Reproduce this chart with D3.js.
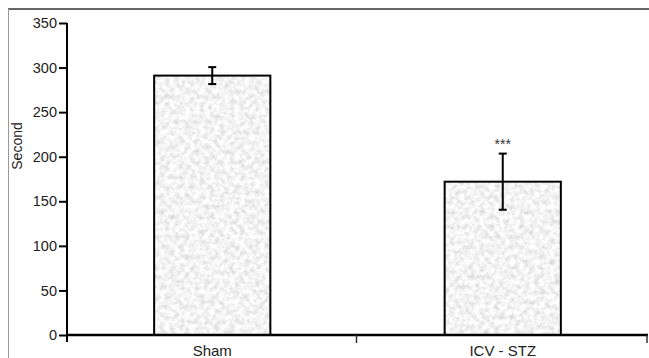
<!DOCTYPE html>
<html>
<head>
<meta charset="utf-8">
<script src="https://cdn.jsdelivr.net/npm/d3@7"></script>
<style>
  body { margin: 0; background: #fff; }
  svg { display: block; font-family: "Liberation Sans", Arial, sans-serif; }
</style>
</head>
<body>
<div id="chart"></div>
<script>
const groups = ['Sham', 'ICV - STZ'];
const means = [291, 172];
const sem = [9.5, 31.5];
const marks = ['', '***'];
const yTicks = [0, 50, 100, 150, 200, 250, 300, 350];

const data = groups.map((g, i) => ({ group: g, mean: means[i], sem: sem[i], mark: marks[i] }));

const width = 649, height = 358;
const svg = d3.select('#chart').append('svg')
  .attr('width', width)
  .attr('height', height);

// grainy grey fill for the bars
const defs = svg.append('defs');
const grain = defs.append('filter').attr('id', 'grain')
  .attr('x', 0).attr('y', 0).attr('width', 1).attr('height', 1);
grain.append('feTurbulence')
  .attr('type', 'fractalNoise')
  .attr('baseFrequency', 0.2)
  .attr('numOctaves', 3)
  .attr('seed', 7)
  .attr('result', 'noise');
grain.append('feColorMatrix')
  .attr('in', 'noise')
  .attr('type', 'matrix')
  .attr('values', '0.55 0 0 0 0.62  0.55 0 0 0 0.62  0.55 0 0 0 0.62  0 0 0 0 1')
  .attr('result', 'grey');
grain.append('feComposite')
  .attr('in', 'grey')
  .attr('in2', 'SourceGraphic')
  .attr('operator', 'in');

// outer frame
svg.append('line')
  .attr('x1', 8).attr('x2', width).attr('y1', 9).attr('y2', 9)
  .attr('stroke', '#333').attr('stroke-width', 1.5);
svg.append('line')
  .attr('x1', 8.5).attr('x2', 8.5).attr('y1', 9).attr('y2', height)
  .attr('stroke', '#999').attr('stroke-width', 1);

const x = d3.scaleBand()
  .domain(groups)
  .range([67, 648])
  .padding(0);

const y = d3.scaleLinear()
  .domain([0, 350])
  .range([335, 23]);

const barW = x.bandwidth() * 0.4;

// bars
svg.selectAll('.bar')
  .data(data)
  .enter().append('rect')
  .attr('class', 'bar')
  .attr('x', d => x(d.group) + (x.bandwidth() - barW) / 2)
  .attr('y', d => y(d.mean))
  .attr('width', barW)
  .attr('height', d => y(0) - y(d.mean))
  .attr('fill', '#eee')
  .attr('filter', 'url(#grain)');

svg.selectAll('.bar-edge')
  .data(data)
  .enter().append('rect')
  .attr('class', 'bar-edge')
  .attr('x', d => x(d.group) + (x.bandwidth() - barW) / 2)
  .attr('y', d => y(d.mean))
  .attr('width', barW)
  .attr('height', d => y(0) - y(d.mean))
  .attr('fill', 'none')
  .attr('stroke', '#000')
  .attr('stroke-width', 2);

// error bars
const cx = d => x(d.group) + x.bandwidth() / 2;
const err = svg.selectAll('.err')
  .data(data)
  .enter().append('g')
  .attr('class', 'err')
  .attr('stroke', '#000')
  .attr('stroke-width', 2);
err.append('line')
  .attr('x1', cx).attr('x2', cx)
  .attr('y1', d => y(d.mean + d.sem))
  .attr('y2', d => y(d.mean - d.sem));
err.append('line')
  .attr('x1', d => cx(d) - 4).attr('x2', d => cx(d) + 4)
  .attr('y1', d => y(d.mean + d.sem)).attr('y2', d => y(d.mean + d.sem));
err.append('line')
  .attr('x1', d => cx(d) - 4).attr('x2', d => cx(d) + 4)
  .attr('y1', d => y(d.mean - d.sem)).attr('y2', d => y(d.mean - d.sem));

// significance stars
svg.selectAll('.sig')
  .data(data)
  .enter().append('text')
  .attr('class', 'sig')
  .attr('x', cx)
  .attr('y', d => y(d.mean + d.sem) - 5)
  .attr('text-anchor', 'middle')
  .attr('font-size', '14px')
  .attr('fill', '#333')
  .text(d => d.mark);

// y axis
const yAxis = svg.append('g')
  .attr('transform', 'translate(67,0)')
  .call(d3.axisLeft(y).tickValues(yTicks).tickSize(8).tickPadding(2));
yAxis.select('.domain').remove();
yAxis.append('line')
  .attr('x1', 0).attr('x2', 0).attr('y1', y(350)).attr('y2', 342)
  .attr('stroke', '#000').attr('stroke-width', 2);
yAxis.selectAll('.tick line').attr('stroke', '#000').attr('stroke-width', 2);
yAxis.selectAll('.tick text')
  .attr('font-size', '14.5px')
  .attr('font-family', '"Liberation Sans", Arial, sans-serif')
  .attr('fill', '#222');

// x axis
const xAxis = svg.append('g')
  .attr('transform', 'translate(0,335)')
  .call(d3.axisBottom(x).tickSize(0).tickPadding(10));
xAxis.select('.domain').remove();
xAxis.append('line')
  .attr('x1', 67).attr('x2', 648).attr('y1', 0).attr('y2', 0)
  .attr('stroke', '#000').attr('stroke-width', 2.5);
xAxis.selectAll('.tick text')
  .attr('font-size', '15px')
  .attr('font-family', '"Liberation Sans", Arial, sans-serif')
  .attr('fill', '#222');
xAxis.selectAll('.sep')
  .data(groups)
  .enter().append('line')
  .attr('class', 'sep')
  .attr('x1', d => x(d) + x.bandwidth() - 1)
  .attr('x2', d => x(d) + x.bandwidth() - 1)
  .attr('y1', 0).attr('y2', 8)
  .attr('stroke', '#333').attr('stroke-width', 1.5);

// y label
svg.append('text')
  .attr('transform', 'translate(22,146) rotate(-90)')
  .attr('text-anchor', 'middle')
  .attr('font-size', '14px')
  .attr('fill', '#222')
  .text('Second');
</script>
</body>
</html>
